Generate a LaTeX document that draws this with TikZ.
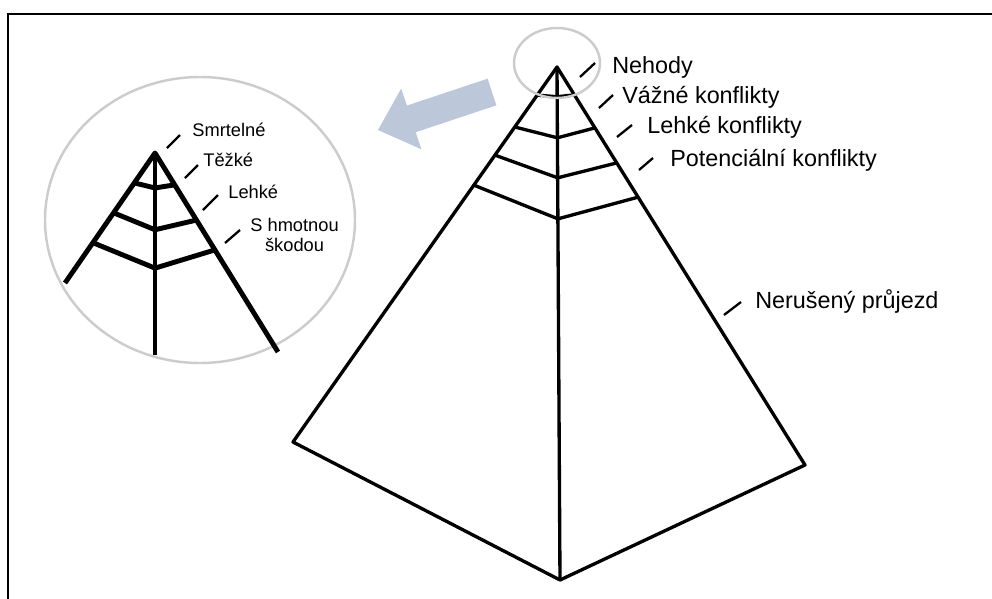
\documentclass[tikz,border=0pt]{standalone}
\usepackage{fontspec}
\setmainfont{Liberation Sans}
\usetikzlibrary{calc}
\definecolor{arrowblue}{RGB}{188,200,218}
\definecolor{ringgray}{RGB}{204,204,204}

\begin{document}
\begin{tikzpicture}[x=0.02cm, y=-0.02cm,
  edge/.style={line width=1.9pt, line join=round},
  inedge/.style={line width=2.8pt, line join=round},
  tick/.style={line width=1.3pt},
  ring/.style={ringgray, line width=1.4pt},
  lbl/.style={anchor=west, inner sep=0pt, font=\fontsize{13.3}{16}\selectfont},
  smlbl/.style={anchor=west, inner sep=0pt, align=center, font=\fontsize{10.4}{11.3}\selectfont}]
  \useasboundingbox (0,0) rectangle (992,599);

  % Frame (top and left side)
  \draw[line width=1.6pt] (992,14) -- (8,14) -- (8,599);

  % Main pyramid
  \coordinate (apex) at (557,67);
  \coordinate (lc) at (293,442);
  \coordinate (rc) at (805,465);
  \coordinate (bot) at (560,580);
  \draw[edge] (apex) -- (lc) -- (bot) -- (rc) -- cycle;
  \draw[edge] (apex) -- (bot);

  % Bands of the main pyramid
  \foreach \tl/\tm/\tr in {0.075/0.058/0.07, 0.16/0.138/0.153, 0.235/0.216/0.241, 0.315/0.296/0.327}
    \draw[edge] ($(apex)!\tl!(lc)$) -- ($(apex)!\tm!(bot)$) -- ($(apex)!\tr!(rc)$);

  % Ring round the top
  \draw[ring] (557,63) ellipse [x radius=43, y radius=35];

  % Arrow towards the inset
  \fill[arrowblue] (487.6,78.7) -- (406.9,105.6) -- (401.2,88.5) -- (378,130)
    -- (421.4,149.3) -- (415.7,132.2) -- (496.4,105.3) -- cycle;

  % Labels of the main pyramid
  \node[lbl] (nehody) at (612,67) {Nehody};
  \draw[tick] (580,77) -- (595,63);
  \node[lbl] (vazne) at (622,97) {Vážné konflikty};
  \draw[tick] (599,108) -- (613,95);
  \node[lbl] (lehke) at (647,127) {Lehké konflikty};
  \draw[tick] (617,137) -- (632,125);
  \node[lbl] (potenc) at (670,160) {Potenciální konflikty};
  \draw[tick] (639,170) -- (653,158);
  \node[lbl] (nerus) at (755,302) {Nerušený průjezd};
  \draw[tick] (724,315) -- (741,302);

  % Inset
  \draw[ring] (200,220) ellipse [x radius=155, y radius=143];
  \coordinate (iapex) at (155,153);
  \coordinate (ilc) at (65,283);
  \coordinate (irc) at (278,352);
  \coordinate (ibot) at (155,355);
  \draw[inedge] (ilc) -- (iapex) -- (irc);
  \draw[inedge] (iapex) -- (ibot);
  \foreach \tl/\tm/\tr in {0.23/0.173/0.16, 0.46/0.38/0.337, 0.69/0.57/0.487}
    \draw[inedge] ($(iapex)!\tl!(ilc)$) -- ($(iapex)!\tm!(ibot)$) -- ($(iapex)!\tr!(irc)$);

  % Labels of the inset
  \node[smlbl] (smrt) at (192,130) {Smrtelné};
  \draw[tick] (167,148) -- (180,135);
  \node[smlbl] (tezke) at (203,160) {Těžké};
  \draw[tick] (185,178) -- (198,165);
  \node[smlbl] (ilehke) at (228,192) {Lehké};
  \draw[tick] (203,210) -- (218,195);
  \node[smlbl] (skoda) at (250,235) {S hmotnou\\škodou};
  \draw[tick] (225,243) -- (240,230);
\end{tikzpicture}
\end{document}
